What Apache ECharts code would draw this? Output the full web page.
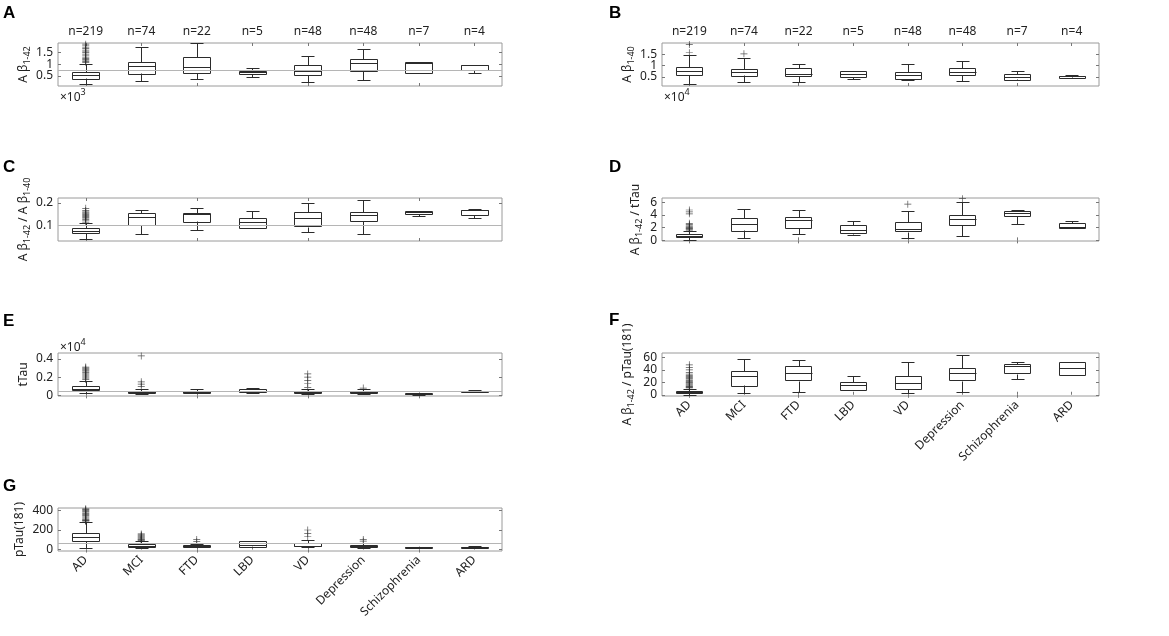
<!DOCTYPE html>
<html>
<head>
<meta charset="utf-8">
<script src="https://cdn.jsdelivr.net/npm/echarts@6/dist/echarts.min.js"></script>
<style>html,body{margin:0;padding:0;background:#fff;}#c{width:1169px;height:636px;}</style>
</head>
<body>
<div id="c"></div>
<script>
// ---------- data ----------
const categories = ['AD','MCI','FTD','LBD','VD','Depression','Schizophrenia','ARD'];
const nLabels = ['n=219','n=74','n=22','n=5','n=48','n=48','n=7','n=4'];

// Boxes: [lower whisker, Q1, median, Q3, upper whisker]
// A: Aβ1-42 (×10^3)
const abeta42Box = [[0.17,0.40,0.54,0.68,1.03],[0.29,0.61,0.92,1.11,1.73],[0.36,0.64,0.90,1.32,1.88],[0.48,0.60,0.66,0.72,0.83],[0.23,0.54,0.71,0.96,1.36],[0.34,0.72,1.04,1.21,1.63],[0.62,0.62,1.07,1.08,1.10],[0.61,0.76,0.95,0.96,0.97]];
const abeta42Out = [[0,1.08],[0,1.12],[0,1.16],[0,1.20],[0,1.25],[0,1.30],[0,1.36],[0,1.43],[0,1.50],[0,1.55],[0,1.60],[0,1.66],[0,1.72],[0,1.78],[0,1.85]];
const abeta42Ticks = [0.5,1,1.5];
const abeta42Range = [0.08,1.9];
const abeta42Ref = 0.74;

// B: Aβ1-40 (×10^4)
const abeta40Box = [[0.19,0.58,0.78,0.94,1.45],[0.28,0.57,0.72,0.87,1.35],[0.29,0.55,0.64,0.90,1.09],[0.41,0.48,0.62,0.75,0.78],[0.36,0.43,0.59,0.72,1.06],[0.30,0.57,0.74,0.90,1.20],[0.36,0.39,0.51,0.64,0.75],[0.46,0.48,0.53,0.55,0.57]];
const abeta40Out = [[0,1.57],[0,1.93],[1,1.52]];
const abeta40Ticks = [0.5,1,1.5];
const abeta40Range = [0.1,2.0];

// C: Aβ1-42 / Aβ1-40
const ratioBox = [[0.040,0.067,0.076,0.087,0.110],[0.060,0.100,0.139,0.154,0.170],[0.081,0.119,0.152,0.157,0.178],[0.087,0.087,0.115,0.131,0.164],[0.069,0.094,0.131,0.158,0.199],[0.064,0.118,0.146,0.158,0.212],[0.143,0.152,0.160,0.164,0.166],[0.133,0.148,0.167,0.170,0.172]];
const ratioOut = [[0,0.115],[0,0.121],[0,0.126],[0,0.131],[0,0.136],[0,0.140],[0,0.144],[0,0.148],[0,0.152],[0,0.156],[0,0.160],[0,0.167],[0,0.176]];
const ratioTicks = [0.1,0.2];
const ratioRange = [0.031,0.222];
const ratioRef = 0.1;

// D: Aβ1-42 / tTau
const abTauBox = [[0.10,0.54,0.75,0.96,1.45],[0.43,1.60,2.62,3.59,4.98],[1.07,1.98,3.16,3.75,4.82],[0.91,1.07,1.71,2.36,3.10],[0.37,1.34,1.82,2.84,4.71],[0.70,2.41,3.37,3.96,6.05],[2.57,3.80,4.29,4.66,4.77],[1.93,1.93,2.14,2.68,3.10]];
const abTauOut = [[0,1.6],[0,1.75],[0,1.85],[0,1.95],[0,2.05],[0,2.15],[0,2.3],[0,2.5],[0,2.7],[0,4.2],[0,4.5],[0,4.8],[4,5.73],[5,6.59]];
const abTauTicks = [0,2,4,6];
const abTauRange = [-0.1,6.7];

// E: tTau (×10^4)
const tTauBox = [[0.022,0.058,0.073,0.102,0.160],[0.015,0.029,0.040,0.047,0.073],[0.022,0.029,0.038,0.047,0.073],[0.029,0.029,0.050,0.065,0.080],[0.015,0.025,0.040,0.047,0.073],[0.015,0.025,0.036,0.044,0.065],[0.007,0.015,0.020,0.025,0.029],[0.033,0.040,0.045,0.050,0.058]];
const tTauOut = [[0,0.175],[0,0.185],[0,0.196],[0,0.207],[0,0.218],[0,0.229],[0,0.240],[0,0.252],[0,0.265],[0,0.276],[0,0.287],[0,0.300],[0,0.310],[1,0.095],[1,0.124],[1,0.149],[1,0.433],[4,0.085],[4,0.130],[4,0.165],[4,0.200],[4,0.235],[5,0.080]];
const tTauTicks = [0,0.2,0.4];
const tTauRange = [-0.007,0.465];
const tTauRef = 0.051;

// F: Aβ1-42 / pTau(181)
const abPTauBox = [[0,3.2,4.9,5.9,9.7],[2.7,15.1,30.3,38.4,57.3],[4.9,22.2,35.7,45.4,55.1],[7,7.6,15.7,20,30.3],[2.2,9.7,18.4,30.3,53],[3.8,22.7,34.6,42.2,64.3],[24.9,34.1,45.4,49.2,51.9],[31.4,31.4,42.2,51.9,51.9]];
const abPTauOut = [[0,11],[0,12],[0,13],[0,14],[0,15.5],[0,17],[0,18.5],[0,20],[0,21.5],[0,23],[0,24.5],[0,26],[0,27.5],[0,29],[0,31],[0,33],[0,36],[0,40],[0,44],[0,48]];
const abPTauTicks = [0,20,40,60];
const abPTauRange = [-2,67];

// G: pTau(181)
const pTauBox = [[17,86,124,165,279],[17,28,41,55,83],[24,31,40,48,59],[28,28,45,90,90],[21,31,41,62,97],[17,31,40,48,69],[20,22,25,28,30],[22,24,27,30,33]];
const pTauOut = [[0,290],[0,295],[0,300],[0,305],[0,314],[0,325],[0,338],[0,348],[0,359],[0,369],[0,379],[0,390],[0,400],[0,410],[0,417],[1,90],[1,95],[1,100],[1,105],[1,110],[1,120],[1,130],[1,140],[1,150],[1,160],[2,80],[2,103],[4,131],[4,165],[4,200],[5,86],[5,103]];
const pTauTicks = [0,200,400];
const pTauRange = [-15,425];
const pTauRef = 62;

// ---------- build ----------
const FONT = 'Noto Sans';
const plusPath = 'path://M4.5,0H5.5V4.5H10V5.5H5.5V10H4.5V5.5H0V4.5H4.5Z';
const grids = [], xAxes = [], yAxes = [], series = [];
const px = v => Math.round(v) + 0.5;

function renderBox(params, api) {
  const c = api.value(0);
  const lo = api.coord([c, api.value(1)]);
  const q1 = api.coord([c, api.value(2)]);
  const md = api.coord([c, api.value(3)]);
  const q3 = api.coord([c, api.value(4)]);
  const hi = api.coord([c, api.value(5)]);
  const band = api.size([1, 0])[0];
  const half = band * 0.24, cap = band * 0.12;
  const cx = lo[0];
  const st = {stroke: '#2b2b2b', lineWidth: 1, fill: null};
  const ln = (x1, y1, x2, y2) => ({type: 'line', shape: {x1: px(x1), y1: px(y1), x2: px(x2), y2: px(y2)}, style: st});
  return {type: 'group', children: [
    ln(cx, hi[1], cx, q3[1]),
    ln(cx, lo[1], cx, q1[1]),
    ln(cx - cap, hi[1], cx + cap, hi[1]),
    ln(cx - cap, lo[1], cx + cap, lo[1]),
    {type: 'rect', shape: {x: px(cx - half), y: px(q3[1]), width: Math.round(2 * half), height: Math.max(0, Math.round(q1[1] - q3[1]))}, style: st},
    ln(cx - half, md[1], cx + half, md[1])
  ]};
}

const labelStyle = {fontFamily: FONT, fontSize: 12, color: '#222'};
const nameRich = {a: {fontFamily: FONT, fontSize: 12, color: '#222', lineHeight: 16, verticalAlign: 'middle'},
                  s: {fontFamily: FONT, fontSize: 9, color: '#222', lineHeight: 9, verticalAlign: 'bottom'}};

function panel(pos, box, out, ticks, range, ref, name, nameGap, opts) {
  const gi = grids.length;
  grids.push({left: pos[0], top: pos[1], width: pos[2], height: pos[3], show: true, borderColor: '#9a9a9a', borderWidth: 1, containLabel: false});
  const xi = xAxes.length;
  xAxes.push({
    type: 'category', gridIndex: gi, data: categories, position: 'bottom',
    axisLine: {show: false}, axisTick: {show: true, inside: true, alignWithLabel: true, length: 3, lineStyle: {color: '#777'}},
    axisLabel: opts.showX ? Object.assign({show: true, rotate: 45, margin: 7, interval: 0, hideOverlap: false}, labelStyle) : {show: false},
    splitLine: {show: false}
  });
  xAxes.push({
    type: 'category', gridIndex: gi, data: opts.top ? nLabels : categories, position: 'top',
    axisLine: {show: false}, axisTick: {show: true, inside: true, alignWithLabel: true, length: 3, lineStyle: {color: '#777'}},
    axisLabel: opts.top ? Object.assign({show: true, margin: 5, interval: 0}, labelStyle) : {show: false},
    splitLine: {show: false}
  });
  const yi = yAxes.length;
  // two left axes share the ticks (alternating) so ECharts does not drop crowded labels
  const evenTicks = ticks.filter((_, i) => i % 2 === 0);
  const oddTicks = ticks.filter((_, i) => i % 2 === 1);
  yAxes.push({
    type: 'value', gridIndex: gi, min: range[0], max: range[1], position: 'left',
    name: name, nameLocation: 'middle', nameGap: nameGap, nameRotate: 90,
    nameTextStyle: {fontFamily: FONT, fontSize: 12, color: '#222', rich: nameRich},
    axisLine: {show: false},
    axisTick: {show: true, inside: true, length: 3, customValues: ticks, lineStyle: {color: '#777'}},
    axisLabel: Object.assign({show: true, customValues: evenTicks, showMinLabel: true, showMaxLabel: true, hideOverlap: false, margin: 5}, labelStyle),
    splitLine: {show: false}
  });
  yAxes.push({
    type: 'value', gridIndex: gi, min: range[0], max: range[1], position: 'right',
    axisLine: {show: false},
    axisTick: {show: true, inside: true, length: 3, customValues: ticks, lineStyle: {color: '#777'}},
    axisLabel: {show: false}, splitLine: {show: false}
  });
  if (oddTicks.length) {
    yAxes.push({
      type: 'value', gridIndex: gi, min: range[0], max: range[1], position: 'left', offset: 0,
      axisLine: {show: false}, axisTick: {show: false},
      axisLabel: Object.assign({show: true, customValues: oddTicks, showMinLabel: true, showMaxLabel: true, hideOverlap: false, margin: 5}, labelStyle),
      splitLine: {show: false}
    });
  }
  const boxData = box.map((b, i) => [i].concat(b));
  series.push({
    type: 'custom', xAxisIndex: xi, yAxisIndex: yi, data: boxData, renderItem: renderBox,
    encode: {x: 0, y: [1, 2, 3, 4, 5]}, silent: true, z: 3
  });
  const sc = {
    type: 'scatter', xAxisIndex: xi, yAxisIndex: yi, data: out, symbol: plusPath, symbolSize: 7,
    itemStyle: {color: '#2b2b2b'}, silent: true, z: 4
  };
  if (ref !== null) {
    sc.markLine = {silent: true, symbol: 'none', label: {show: false},
      lineStyle: {color: '#b5b5b5', type: 'solid', width: 1}, data: [{yAxis: ref}]};
  }
  series.push(sc);
}

const L = 58, R = 662, WL = 444, WR = 437, H = 43;
panel([L, 43, WL, H], abeta42Box, abeta42Out, abeta42Ticks, abeta42Range, abeta42Ref, '{a|A β}{s|1-42}', 26, {top: true});
panel([R, 43, WR, H], abeta40Box, abeta40Out, abeta40Ticks, abeta40Range, null, '{a|A β}{s|1-40}', 26, {top: true});
panel([L, 198, WL, H], ratioBox, ratioOut, ratioTicks, ratioRange, ratioRef, '{a|A β}{s|1-42}{a| / A β}{s|1-40}', 26, {});
panel([R, 198, WR, H], abTauBox, abTauOut, abTauTicks, abTauRange, null, '{a|A β}{s|1-42}{a| / tTau}', 18, {});
panel([L, 353, WL, H], tTauBox, tTauOut, tTauTicks, tTauRange, tTauRef, '{a|tTau}', 26, {});
panel([R, 353, WR, H], abPTauBox, abPTauOut, abPTauTicks, abPTauRange, null, '{a|A β}{s|1-42}{a| / pTau(181)}', 26, {showX: true});
panel([L, 508, WL, H], pTauBox, pTauOut, pTauTicks, pTauRange, pTauRef, '{a|pTau(181)}', 30, {showX: true});

const letterStyle = {fontFamily: 'Liberation Sans', fontWeight: 'bold', fontSize: 17, fill: '#000'};
const letters = [['A',3,5],['B',609,5],['C',3,159],['D',609,159],['E',3,313],['F',609,312],['G',3,478]];
const graphics = letters.map(l => ({type: 'text', left: l[1], top: l[2], style: Object.assign({text: l[0]}, letterStyle)}));
const expRich = {a: {fontFamily: FONT, fontSize: 12, fill: '#222', lineHeight: 16, verticalAlign: 'bottom'},
                 p: {fontFamily: FONT, fontSize: 9, fill: '#222', lineHeight: 9, verticalAlign: 'top'}};
graphics.push({type: 'text', left: 60, top: 88, style: {text: '{a|×10}{p|3}', rich: expRich}});
graphics.push({type: 'text', left: 664, top: 88, style: {text: '{a|×10}{p|4}', rich: expRich}});
graphics.push({type: 'text', left: 60, top: 338, style: {text: '{a|×10}{p|4}', rich: expRich}});

const chart = echarts.init(document.getElementById('c'), null, {renderer: 'canvas'});
chart.setOption({
  animation: false,
  backgroundColor: '#fff',
  grid: grids, xAxis: xAxes, yAxis: yAxes, series: series, graphic: graphics
});
</script>
</body>
</html>
